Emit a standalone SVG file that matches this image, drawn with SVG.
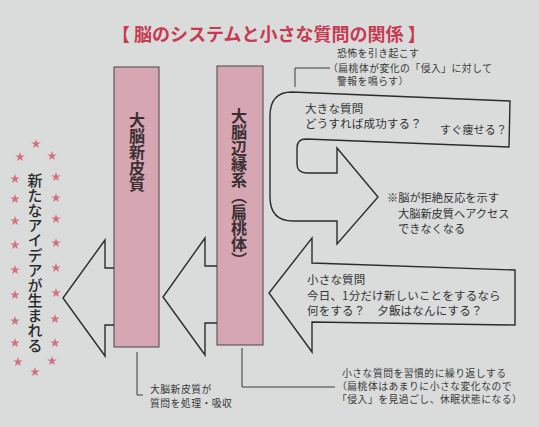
<svg xmlns="http://www.w3.org/2000/svg" xmlns:xlink="http://www.w3.org/1999/xlink" width="539" height="427" viewBox="0 0 539 427">
<defs>
<style>
.bg{fill:#d9dcdb}
.bar{fill:#d6a6b3;stroke:#4a4346;stroke-width:1}
.arrow{fill:none;stroke:#2b2b2b;stroke-width:1.4;stroke-linejoin:miter}
.lead{fill:none;stroke:#3a3a3a;stroke-width:1}
.t{font-family:"Noto Sans CJK JP","Noto Sans",sans-serif;fill:#333}
.title{font-family:"Noto Sans CJK JP",sans-serif;font-weight:700;font-size:18px;fill:#c83a50}
.vt{font-family:"Noto Sans CJK JP",sans-serif;font-weight:700;fill:#3a3034;writing-mode:vertical-rl}
.q{font-size:11.5px;letter-spacing:0.2px;fill:#333}
.note{font-size:11.2px;fill:#333}
.ann{font-size:9.8px;letter-spacing:0.5px;fill:#383838}
.star{fill:#d5717f}
</style>
<path id="star" d="M0,-5 L1.18,-1.62 L4.76,-1.55 L1.9,0.62 L2.94,4.05 L0,2 L-2.94,4.05 L-1.9,0.62 L-4.76,-1.55 L-1.18,-1.62 Z"/>
</defs>
<rect class="bg" x="0" y="0" width="539" height="427"/>

<g id="title">
<text class="title" x="112" y="41">【 脳のシステムと小さな質問の関係 】</text>
</g>

<g id="node-neocortex">
<rect class="bar" x="114" y="67" width="45" height="280"/>
<text class="vt" x="137" y="112" font-size="16">大脳新皮質</text>
</g>

<g id="node-limbic">
<rect class="bar" x="217" y="66" width="46" height="279"/>
<text class="vt" x="239" y="108" font-size="16">大脳辺縁系（扁桃体）</text>
</g>

<g id="node-ideas">
<use href="#star" class="star" x="36" y="144"/>
<use href="#star" class="star" x="20" y="157"/>
<use href="#star" class="star" x="52" y="156"/>
<use href="#star" class="star" x="15" y="179"/>
<use href="#star" class="star" x="56" y="177"/>
<use href="#star" class="star" x="15" y="199"/>
<use href="#star" class="star" x="56" y="198"/>
<use href="#star" class="star" x="15" y="221"/>
<use href="#star" class="star" x="56" y="219"/>
<use href="#star" class="star" x="15" y="245"/>
<use href="#star" class="star" x="56" y="243"/>
<use href="#star" class="star" x="15" y="270"/>
<use href="#star" class="star" x="56" y="268"/>
<use href="#star" class="star" x="15" y="295"/>
<use href="#star" class="star" x="56" y="293"/>
<use href="#star" class="star" x="15" y="321"/>
<use href="#star" class="star" x="55" y="319"/>
<use href="#star" class="star" x="15" y="343"/>
<use href="#star" class="star" x="55" y="343"/>
<use href="#star" class="star" x="18" y="362"/>
<use href="#star" class="star" x="52" y="361"/>
<use href="#star" class="star" x="35" y="372"/>
<text class="vt" x="35" y="173" font-size="15" style="font-weight:500;fill:#2a2a2a">新たなアイデアが生まれる</text>
</g>

<g id="node-big-question">
<path class="arrow" d="M292,92 L510,101 L509,147 L306,139 Q297,139 297,148 L297,164 Q297,173 307,173 L337,173 L337,148 L378,197 L337,244 L337,221 L293,221 Q270,221 270,197 L270,116 Q270,92 292,92 Z"/>
<text class="t q" x="305" y="112.5">大きな質問</text>
<text class="t q" x="305" y="128">どうすれば成功する？</text>
<text class="t q" x="440" y="134" style="font-size:11px">すぐ痩せる？</text>
<text class="t note" x="387" y="202">※脳が拒絶反応を示す</text>
<text class="t note" x="398" y="217.5">大脳新皮質へアクセス</text>
<text class="t note" x="398" y="233">できなくなる</text>
</g>

<g id="node-small-question">
<path class="arrow" d="M515,270 L312,263 L312,238 L269,293 L312,352 L312,322 L515,325 Z"/>
<text class="t q" x="307" y="284">小さな質問</text>
<text class="t q" x="307" y="299.5">今日、1分だけ新しいことをするなら</text>
<text class="t q" x="307" y="315">何をする？　夕飯はなんにする？</text>
</g>

<g id="connectors">
<path class="arrow" d="M114,268 L105,268 L105,240 L63,298 L105,356 L105,325 L114,325"/>
<path class="arrow" d="M217,266 L205,266 L205,238 L163,297 L205,355 L205,323 L217,323"/>
<path class="lead" d="M295,87 L295,68 L330,68"/>
<path class="lead" d="M137,352 L137,395 L143,395"/>
<path class="lead" d="M242,348 L242,387 L335,387"/>
</g>

<g id="annotations">
<text class="t ann" x="337" y="57">恐怖を引き起こす</text>
<text class="t ann" x="328" y="72">（扁桃体が変化の「侵入」に対して</text>
<text class="t ann" x="337" y="85">警報を鳴らす）</text>
<text class="t ann" x="150" y="393">大脳新皮質が</text>
<text class="t ann" x="150" y="407">質問を処理・吸収</text>
<text class="t ann" x="342" y="377">小さな質問を習慣的に繰り返しする</text>
<text class="t ann" x="337" y="390">（扁桃体はあまりに小さな変化なので</text>
<text class="t ann" x="337" y="403">「侵入」を見過ごし、休眠状態になる）</text>
</g>
</svg>
